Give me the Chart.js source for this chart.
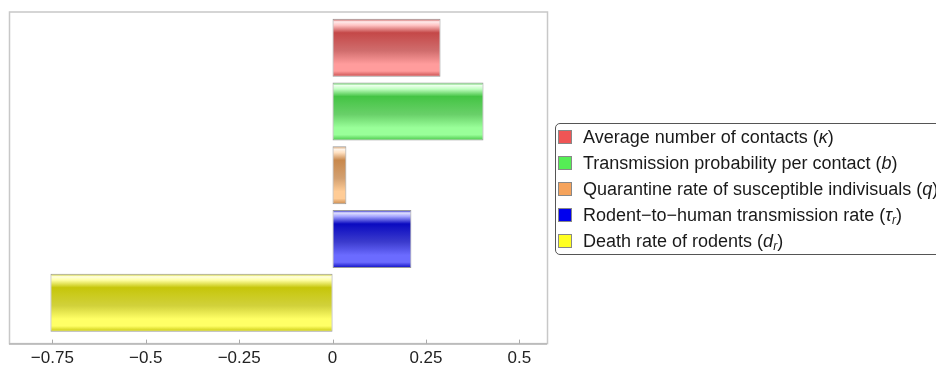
<!DOCTYPE html>
<html>
<head>
<meta charset="utf-8">
<script src="https://cdn.jsdelivr.net/npm/chart.js@4/dist/chart.umd.min.js"></script>
<style>
  html, body { margin: 0; padding: 0; background: #fff; overflow: hidden; }
  #wrap { position: relative; width: 936px; height: 370px; }
  #legend {
    position: absolute; left: 555px; top: 123px; width: 440px;
    border: 1px solid #555; border-radius: 5px; padding: 0;
    font-family: 'Liberation Sans', Arial, sans-serif; font-size: 18px; color: #1a1a1a;
  }
  #legend .row { height: 26px; line-height: 26px; white-space: nowrap; }
  #legend .sw { display: inline-block; width: 12px; height: 12px; border: 1px solid #888;
    margin: 0 11px 0 2px; vertical-align: -1px; }
  #legend sub { font-size: 12px; vertical-align: -3px; line-height: 0; }
</style>
</head>
<body>
<div id="wrap">
  <canvas id="chart1" width="936" height="370"></canvas>
  <div id="legend"></div>
</div>
<script>
var categories = [
  'Average number of contacts',
  'Transmission probability per contact',
  'Quarantine rate of susceptible indivisuals',
  'Rodent\u2212to\u2212human transmission rate',
  'Death rate of rodents'
];
var symbols = ['\u03ba', 'b', 'q', '\u03c4', 'd'];
var subs = ['', '', '', 'r', 'r'];
var values = [0.289, 0.404, 0.037, 0.211, -0.755];
var tickVals = [-0.75, -0.5, -0.25, 0, 0.25, 0.5];

var swatch = ['#ef5555', '#55ee55', '#f5a35c', '#0000ee', '#ffff22'];
var dark = ['#c44848', '#44c444', '#c8884c', '#0a0ac0', '#c6c60a'];
var light = ['#ff9c9c', '#99ff99', '#ffcc96', '#6b6bff', '#ffff66'];

// frame sits a little outside the category band (top 4px, bottom 9px)
var frameTop = 4, frameBottom = 9;

function mix(hex, t) {
  var r = parseInt(hex.substr(1, 2), 16), g = parseInt(hex.substr(3, 2), 16), b = parseInt(hex.substr(5, 2), 16);
  r = Math.round(r + (255 - r) * t); g = Math.round(g + (255 - g) * t); b = Math.round(b + (255 - b) * t);
  return 'rgb(' + r + ',' + g + ',' + b + ')';
}

// legend
var leg = document.getElementById('legend');
categories.forEach(function (c, i) {
  var sym = '<i>' + symbols[i] + '</i>' + (subs[i] ? '<sub><i>' + subs[i] + '</i></sub>' : '');
  leg.innerHTML += '<div class="row"><span class="sw" style="background:' + swatch[i] + '"></span>' +
    c + ' (' + sym + ')</div>';
});

// glossy fill per bar + frame
var glossPlugin = {
  id: 'gloss',
  beforeDatasetsDraw: function (chart) {
    var ctx = chart.ctx;
    chart.getDatasetMeta(0).data.forEach(function (bar, i) {
      var top = bar.y - bar.height / 2, bot = bar.y + bar.height / 2;
      var g = ctx.createLinearGradient(0, top, 0, bot);
      g.addColorStop(0, dark[i]);
      g.addColorStop(0.05, mix(light[i], 0.8));
      g.addColorStop(0.11, mix(light[i], 0.4));
      g.addColorStop(0.24, dark[i]);
      g.addColorStop(0.55, mix(dark[i], 0.2));
      g.addColorStop(0.78, light[i]);
      g.addColorStop(0.9, light[i]);
      g.addColorStop(1, dark[i]);
      bar.options.backgroundColor = g;
    });
  },
  afterDraw: function (chart) {
    var ctx = chart.ctx, a = chart.chartArea, x = chart.scales.x;
    var t = a.top - frameTop, b = a.bottom + frameBottom;
    ctx.save();
    ctx.strokeStyle = '#c8c8c8';
    ctx.lineWidth = 1.5;
    ctx.strokeRect(a.left + 0.5, t, a.right - a.left, b - t);
    ctx.strokeStyle = '#aaaaaa';
    ctx.lineWidth = 1;
    ctx.beginPath();
    ctx.moveTo(a.left, b + 0.5);
    ctx.lineTo(a.right, b + 0.5);
    x.ticks.forEach(function (tk) {
      var px = Math.round(x.getPixelForValue(tk.value)) + 0.5;
      ctx.moveTo(px, b);
      ctx.lineTo(px, b - 4);
    });
    ctx.stroke();
    ctx.restore();
  }
};

var chart1 = new Chart(document.getElementById('chart1').getContext('2d'), {
  type: 'bar',
  data: {
    labels: categories,
    datasets: [{
      data: values,
      backgroundColor: swatch,
      borderColor: 'rgba(120,120,120,0.75)',
      borderWidth: 1,
      borderSkipped: false,
      barPercentage: 0.91,
      categoryPercentage: 1
    }]
  },
  options: {
    indexAxis: 'y',
    responsive: false,
    animation: false,
    layout: { padding: { left: 9, right: 389, top: 16, bottom: -13 } },
    plugins: { legend: { display: false }, tooltip: { enabled: false } },
    scales: {
      y: { display: false },
      x: {
        min: -0.866,
        max: 0.574,
        border: { display: false },
        grid: { display: false, drawTicks: false },
        afterBuildTicks: function (s) {
          s.ticks = tickVals.map(function (v) { return { value: v }; });
        },
        ticks: {
          padding: 14,
          color: '#222',
          font: { family: "'Liberation Sans', Arial, sans-serif", size: 17 },
          callback: function (v) {
            return v === 0 ? '0' : String(v).replace('-', '\u2212');
          }
        }
      }
    }
  },
  plugins: [glossPlugin]
});
</script>
</body>
</html>
